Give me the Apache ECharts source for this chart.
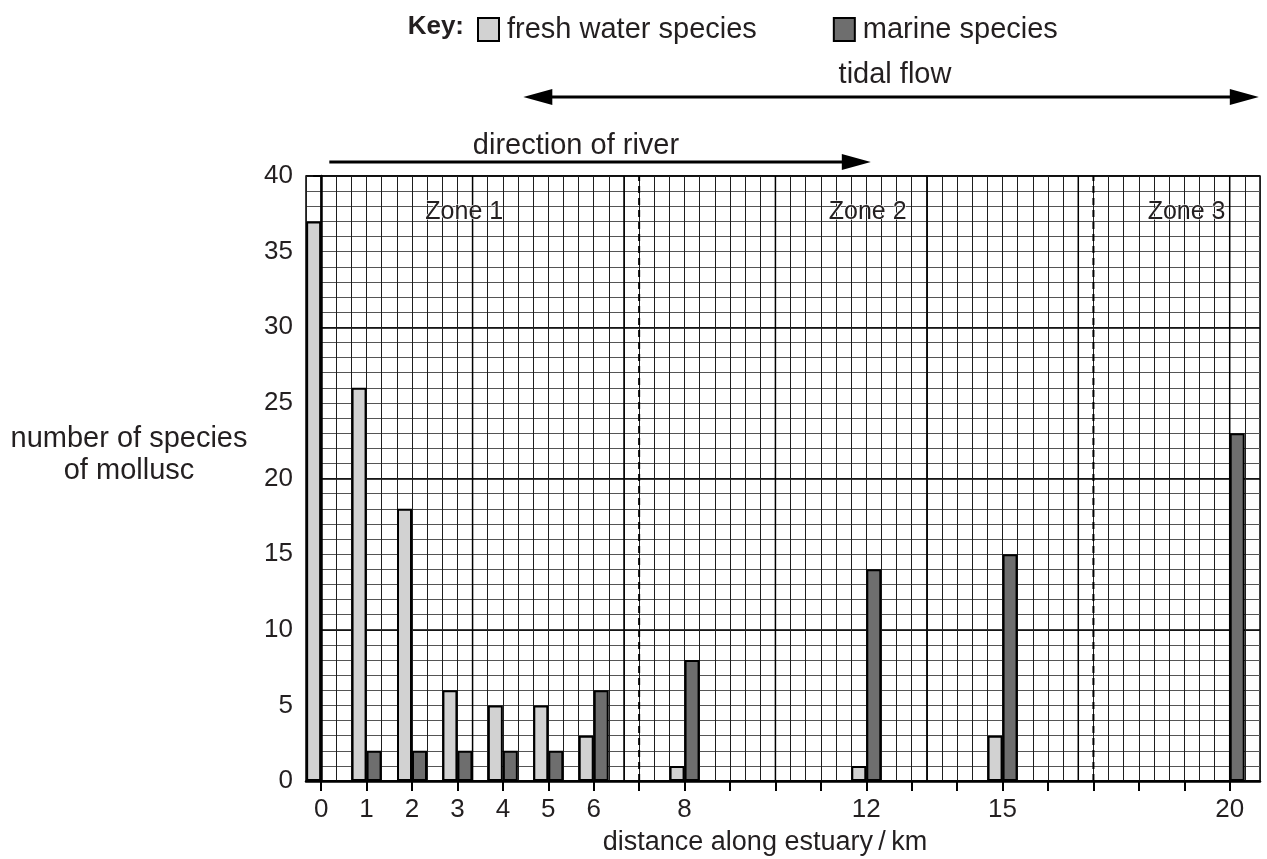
<!DOCTYPE html>
<html><head><meta charset="utf-8">
<script src="https://cdn.jsdelivr.net/npm/echarts@6/dist/echarts.min.js"></script>
<style>html,body{margin:0;padding:0;background:#fff}#c{width:1267px;height:859px}</style>
</head><body><div id="c"></div>
<script>
// ---- data ----
const distances = [0, 1, 2, 3, 4, 5, 6, 8, 12, 15, 20];
const freshWater = [37, 26, 18, 6, 5, 5, 3, 1, 1, 3, 0];
const marine = [0, 2, 2, 2, 2, 2, 6, 8, 14, 15, 23];
const xTickValues = [0,1,2,3,4,5,6,7,8,9,10,11,12,13,14,15,16,17,18,19,20];
const xLabelValues = [0, 1, 2, 3, 4, 5, 6, 8, 12, 15, 20];
const majorXGrid = [0, 10/3, 20/3, 10, 40/3, 50/3, 20];
const zoneBoundaries = [7, 17];
const zoneNames = ['Zone 1', 'Zone 2', 'Zone 3'];
const zoneLabelX = [3.15, 12.03, 19.05];
const zoneLabelY = [37.6, 37.6, 37.6];

const FONT = 'Liberation Sans, Arial, Helvetica, sans-serif';
const TXT = '#231f20';

const chart = echarts.init(document.getElementById('c'), null, {renderer: 'canvas'});

const hidden = {axisLine:{show:false}, axisTick:{show:false}, axisLabel:{show:false}};

function vline(dashed, width) {
  return function (params, api) {
    const x = api.value(0);
    const p0 = api.coord([x, 0]);
    const p1 = api.coord([x, 40]);
    return {
      type: 'line',
      shape: {x1: p0[0], y1: p0[1], x2: p1[0], y2: p1[1]},
      style: {stroke: '#000', lineWidth: width, lineDash: dashed ? [7, 5] : null}
    };
  };
}

const option = {
  backgroundColor: '#fff',
  animation: false,
  textStyle: {fontFamily: FONT},
  grid: {left: 306, right: 7, top: 176, bottom: 78, show: true, borderColor: '#000', borderWidth: 1.5,
    backgroundColor: 'transparent', containLabel: false, outerBoundsMode: 'none'},
  legend: {
    data: ['fresh water species', 'marine species'],
    left: 477, top: 15, padding: 0, icon: 'rect', itemWidth: 21, itemHeight: 23, itemGap: 76,
    textStyle: {fontSize: 29, color: TXT, fontFamily: FONT, padding: [0, 0, 0, 3]}, selectedMode: false
  },
  xAxis: [
    {
      type: 'value', min: -1/3, max: 62/3,
      axisLine: {show: true, onZero: false, lineStyle: {color: '#000', width: 2.5}},
      axisTick: {show: true, customValues: xTickValues, length: 10, lineStyle: {color: '#000', width: 2}},
      axisLabel: {show: true, customValues: xLabelValues, fontSize: 26, color: TXT, margin: 16, fontFamily: FONT},
      splitLine: {show: false}
    },
    Object.assign({type: 'value', min: -1/3, max: 62/3, interval: 1/3,
      splitLine: {show: true, lineStyle: {color: '#1e1e1e', width: 1}}}, hidden)
  ],
  yAxis: [
    {
      type: 'value', min: 0, max: 40, interval: 5,
      axisLine: {show: true, lineStyle: {color: '#000', width: 2.5}},
      axisTick: {show: true, length: 8, lineStyle: {color: '#000', width: 2}},
      axisLabel: {fontSize: 26, color: TXT, margin: 13, fontFamily: FONT},
      splitLine: {show: false}
    },
    Object.assign({type: 'value', min: 0, max: 40, interval: 1,
      splitLine: {show: true, lineStyle: {color: '#555', width: 1}}}, hidden),
    Object.assign({type: 'value', min: 0, max: 40, interval: 10,
      splitLine: {show: true, lineStyle: {color: '#000', width: 1.5}}}, hidden)
  ],
  series: [
    {
      type: 'custom', name: 'majorGrid', silent: true, z: 1,
      renderItem: vline(false, 1.5), data: majorXGrid.map(v => [v])
    },
    {
      type: 'custom', name: 'zoneLines', silent: true, z: 3,
      renderItem: vline(true, 2), data: zoneBoundaries.map(v => [v])
    },
    {
      type: 'custom', name: 'zoneLabels', silent: true, z: 3,
      renderItem: function (params, api) {
        const p = api.coord([api.value(0), api.value(1)]);
        return {
          type: 'text', x: p[0], y: p[1],
          style: {text: zoneNames[params.dataIndex], fill: TXT, font: '25px ' + FONT,
            align: 'center', verticalAlign: 'middle', stroke: '#fff', lineWidth: 1.2}
        };
      },
      data: zoneLabelX.map((v, i) => [v, zoneLabelY[i]])
    },
    {
      type: 'bar', name: 'fresh water species', z: 5, barWidth: 15, barGap: '0%',
      itemStyle: {color: '#d2d2d2', borderColor: '#000', borderWidth: 2},
      data: distances.map((d, i) => [d, freshWater[i]])
    },
    {
      type: 'bar', name: 'marine species', z: 5, barWidth: 15, barGap: '0%',
      itemStyle: {color: '#6e6e6e', borderColor: '#000', borderWidth: 2},
      data: distances.map((d, i) => [d, marine[i]])
    }
  ]
};
chart.setOption(option);

// ---- annotations (positions derived from axis scale) ----
const px = v => chart.convertToPixel({xAxisIndex: 0}, v);
function arrowHead(x, y, dir) {
  const L = 29, H = 8;
  return {type: 'polygon', shape: {points: [[x, y], [x - dir * L, y - H], [x - dir * L, y + H]]}, style: {fill: '#000'}};
}
const tideL = px(4.45), tideR = px(20.64), tideY = 97;
const rivL = px(0.18), rivR = px(12.1), rivY = 162;
chart.setOption({
  graphic: [
    {type: 'text', x: 464, y: 27, style: {text: 'Key:', font: 'bold 26px ' + FONT, fill: TXT, align: 'right', verticalAlign: 'middle'}},
    {type: 'line', shape: {x1: tideL + 20, y1: tideY, x2: tideR - 20, y2: tideY}, style: {stroke: '#000', lineWidth: 3}},
    arrowHead(tideL, tideY, -1), arrowHead(tideR, tideY, 1),
    {type: 'text', x: 895, y: 75, style: {text: 'tidal flow', font: '29px ' + FONT, fill: TXT, align: 'center', verticalAlign: 'middle'}},
    {type: 'line', shape: {x1: rivL, y1: rivY, x2: rivR - 20, y2: rivY}, style: {stroke: '#000', lineWidth: 3}},
    arrowHead(rivR, rivY, 1),
    {type: 'text', x: 576, y: 146, style: {text: 'direction of river', font: '29px ' + FONT, fill: TXT, align: 'center', verticalAlign: 'middle'}},
    {type: 'text', x: 129, y: 455, style: {text: 'number of species\nof mollusc', font: '29px ' + FONT, fill: TXT, align: 'center', verticalAlign: 'middle', lineHeight: 32}},
    {type: 'text', x: 765, y: 843, style: {text: 'distance along estuary\u2009/\u2009km', font: '27px ' + FONT, fill: TXT, align: 'center', verticalAlign: 'middle'}}
  ]
});
</script></body></html>
